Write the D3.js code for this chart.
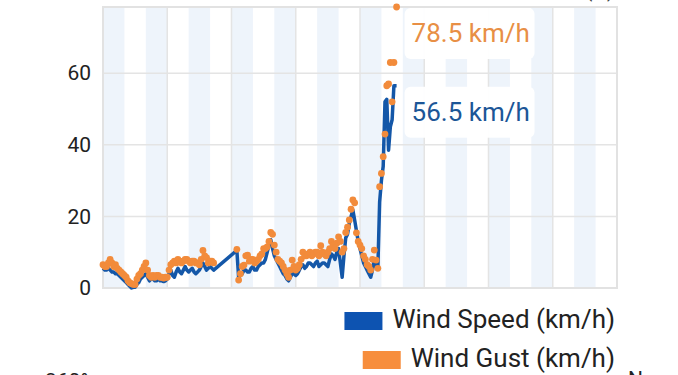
<!DOCTYPE html>
<html>
<head>
<meta charset="utf-8">
<script src="https://cdn.jsdelivr.net/npm/d3@7"></script>
<style>
  html,body{margin:0;padding:0;background:#fff;}
  svg{display:block;font-family:Roboto,"Noto Sans",sans-serif;}
</style>
</head>
<body>
<div id="wind-chart"></div>
<script>
// hourly readings, hours since start of the window (12 days shown); no data between h62 and h75
const hours = [...d3.range(0,63), ...d3.range(75,164), 164.5];
const windSpeed = [
  5.5,5,5,5.5,5,4.5,4.5,4,4,3.5, 3,2.5,2,1.5,1,0.5,0,0.2,0.2,1,
  1.5,2.5,3,3.5,4,3,2,2.5,2.5,2, 2,2.5,2,2,1.8,2,2.5,4,5,3.5,
  3,4.5,5.5,4.5,4,5,6,5,4.5,5, 5.5,4.5,4,4.5,5,6,7,6,5,5.5, 6,5.5,5,
  10.5,3,3.5,4,5,5,4.5,4.5,5.5,6, 5,5,6,6.5,7,7,8,10,12,13.5,
  11,9,8,7,6,5,4,3.5,2.5,2, 3,4,4,3.5,4,5,6,6.5,5.5,6,
  7,7,6.5,6,7,7.5,6,6.5,7,7, 6.5,6,8,9.5,9,8,10,11,7,3,
  9,14,15,18,20,21.8,19,16,13,11, 9,7,6,5,4,3,5,8,6,5.5,
  24,30,34,52,52.7,38.5,45,47,56.5,56.5
];
const windGust = [
  6.5,6,6,7,8,7,6,6.5,5.5,5, 4.5,4,3.5,3,2,1.5,1.2,1,1,2.5,
  3.5,4,5,6,7,5,3.5,3,3.5,3, 3.5,3.5,3,3,2.8,3,3,5,6.5,7,
  7.5,7,8,7.5,7,7.5,8,8,7.5,7, 7.5,7.5,7,7,6.5,8,10.5,9,8.5,7, 7.5,7.5,7,
  10.8,2.2,4,6,6.4,9,9.2,7.5,8,8, 7,7.5,8,9,9.5,11,11,11.5,13,15.5,
  15,12,10,8,7.5,7,6,5,4,3, 5,7.8,6,5,5.5,6.5,8,10,9,9,
  9.5,10,9,9.5,10,10,9,11.8,10,9.5, 9,10,11,13,12,11,12.5,14.3,13,10,
  11,15.5,17,19,22,24.6,23.8,15.4,13,12, 11,9,8,6.5,6,5,8,10.6,7.8,5.5,
  28.3,32,36.7,43,56.5,57,63,52,63,78.5
];
const yTicks = [0,20,40,60];
const gridHours = [36,72,108,144,180,216,252];
const seriesNames = ["Wind Speed (km/h)","Wind Gust (km/h)"];
const unit = "km/h";

(function(){
  const W=678,H=375;
  const LEFT=103,RIGHT=617,TOP=7,BOTTOM=288;
  const BLUE='#1457a8',ORANGE='#f28b3b';

  const svg=d3.select('#wind-chart').append('svg').attr('width',W).attr('height',H);

  const x=d3.scaleLinear().domain([0,288]).range([LEFT,RIGHT]);
  const y=d3.scaleLinear().domain([0,78.5]).range([BOTTOM,TOP]);

  // night bands, 12h out of every 24h
  const days=d3.range(0,288,24);
  svg.append('g').selectAll('rect').data(days).enter().append('rect')
    .attr('x',d=>x(d)).attr('y',TOP)
    .attr('width',x(12)-x(0)).attr('height',BOTTOM-TOP)
    .attr('fill','#eef4fb');

  // grid
  const grid=svg.append('g').attr('stroke','#e4e4e4').attr('stroke-width',1.5);
  grid.selectAll('line.h').data(yTicks.filter(d=>d>0)).enter().append('line')
    .attr('x1',LEFT).attr('x2',RIGHT).attr('y1',d=>y(d)).attr('y2',d=>y(d));
  grid.selectAll('line.v').data(gridHours).enter().append('line')
    .attr('x1',d=>x(d)).attr('x2',d=>x(d)).attr('y1',TOP).attr('y2',BOTTOM);
  svg.append('rect').attr('x',LEFT).attr('y',TOP)
    .attr('width',RIGHT-LEFT).attr('height',BOTTOM-TOP)
    .attr('fill','none').attr('stroke','#e2e2e2').attr('stroke-width',2);

  // y axis labels
  const yAxis=d3.axisLeft(y).tickValues(yTicks).tickSize(0).tickPadding(12);
  const ax=svg.append('g').attr('transform',`translate(${LEFT},0)`).call(yAxis);
  ax.select('.domain').remove();
  ax.selectAll('text').attr('font-size',21).attr('fill','#222')
    .attr('font-family','Roboto,sans-serif');

  const speedData=hours.map((h,i)=>({h,v:windSpeed[i]}));
  const gustData=hours.map((h,i)=>({h,v:windGust[i]}));

  const line=d3.line().x(d=>x(d.h)).y(d=>y(d.v));
  svg.append('path').datum(speedData)
    .attr('d',line).attr('fill','none')
    .attr('stroke',BLUE).attr('stroke-width',3.5).attr('stroke-linejoin','round');

  svg.append('g').selectAll('circle').data(gustData).enter().append('circle')
    .attr('cx',d=>x(d.h)).attr('cy',d=>y(d.v)).attr('r',3.4)
    .attr('fill',ORANGE);

  // last value labels
  function lastLabel(d,color){
    const bx=x(d.h)+8,by=y(d.v)+1;
    svg.append('rect').attr('x',bx).attr('y',by).attr('width',130).attr('height',51)
      .attr('rx',6).attr('fill','#fff').attr('fill-opacity',0.95);
    svg.append('text').attr('x',bx+7).attr('y',by+34)
      .attr('font-size',26).attr('fill',color)
      .text(`${d.v.toFixed(1)} ${unit}`);
  }
  lastLabel(gustData[gustData.length-1],'#e88f45');
  lastLabel(speedData[speedData.length-1],'#1c5697');

  // legend, right aligned
  const legend=[
    {name:seriesNames[0],color:'#0d53b1',baseline:328},
    {name:seriesNames[1],color:'#f78e3d',baseline:367}
  ];
  const lg=svg.append('g');
  legend.forEach(l=>{
    const t=lg.append('text').attr('x',615).attr('y',l.baseline)
      .attr('text-anchor','end').attr('font-size',26).attr('fill','#222').text(l.name);
    const w=t.node().getComputedTextLength();
    lg.append('rect').attr('x',615-w-10-38).attr('y',l.baseline-16)
      .attr('width',38).attr('height',18).attr('fill',l.color);
  });

  // neighbouring charts cut off at the edges
  svg.append('text').attr('x',45).attr('y',388).attr('font-size',21).attr('fill','#222').text('360°');
  svg.append('text').attr('x',628).attr('y',386).attr('font-size',21).attr('fill','#222').text('N');
  svg.append('text').attr('x',614).attr('y',-3).attr('text-anchor','end')
    .attr('font-size',20).attr('fill','#444').text('(%)');
})();
</script>
</body>
</html>
